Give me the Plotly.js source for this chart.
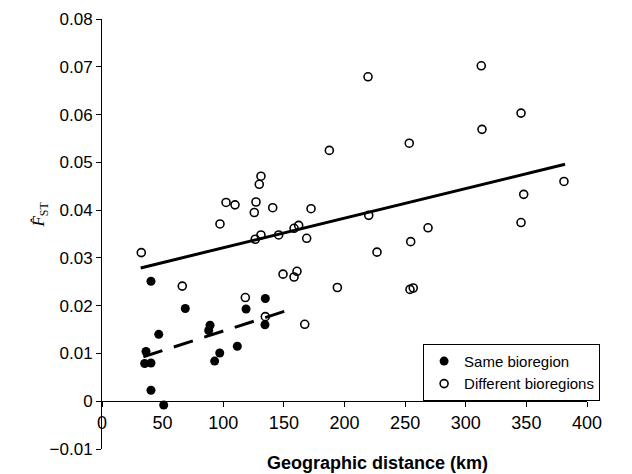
<!DOCTYPE html>
<html>
<head>
<meta charset="utf-8">
<script src="https://cdn.plot.ly/plotly-3.0.1.min.js"></script>
<style>html,body{margin:0;padding:0;background:#fff;}#chart{width:632px;height:474px;}</style>
</head>
<body>
<div id="chart"></div>
<script>
// Same bioregion (filled)
var sameX = [35.2, 36.3, 40.4, 40.4, 40.4, 46.8, 50.9, 68.7, 88.0, 89.1, 92.9, 97.1, 111.6, 118.8, 134.7, 134.4];
var sameY = [0.0079, 0.0104, 0.0080, 0.0023, 0.0251, 0.0140, -0.0008, 0.0194, 0.0148, 0.0159, 0.0084, 0.0101, 0.0115, 0.0193, 0.0215, 0.0160];
// Different bioregions (open)
var diffX = [32.4, 66.2, 97.3, 102.3, 109.7, 118.2, 125.6, 127.0, 126.4, 129.7, 131.1, 131.1, 134.7, 140.8, 145.7, 149.3, 158.4, 158.4, 160.8, 162.2, 167.2, 168.8, 172.4, 187.5, 194.1, 219.4, 220.0, 226.8, 253.4, 254.6, 254.0, 256.7, 268.9, 312.8, 313.4, 345.6, 345.6, 347.8, 381.0];
var diffY = [0.0311, 0.0241, 0.0371, 0.0416, 0.0411, 0.0217, 0.0395, 0.0417, 0.0339, 0.0454, 0.0471, 0.0348, 0.0177, 0.0405, 0.0348, 0.0266, 0.0362, 0.0260, 0.0272, 0.0368, 0.0161, 0.0341, 0.0403, 0.0525, 0.0238, 0.0679, 0.0389, 0.0312, 0.0540, 0.0334, 0.0234, 0.0237, 0.0363, 0.0702, 0.0569, 0.0603, 0.0374, 0.0433, 0.0460];
// Fitted trend lines (end points)
var diffFitX = [31.9, 381.9];
var diffFitY = [0.0279, 0.0496];
var sameFitX = [34.1, 155.3];
var sameFitY = [0.0093, 0.0192];
var xTickVals = [0, 50, 100, 150, 200, 250, 300, 350, 400];
var yTickVals = [-0.01, 0, 0.01, 0.02, 0.03, 0.04, 0.05, 0.06, 0.07, 0.08];
var yTickText = ['\u22120.01', '0', '0.01', '0.02', '0.03', '0.04', '0.05', '0.06', '0.07', '0.08'];

var font = 'Liberation Sans, Arial, Helvetica, sans-serif';
var traces = [
  {x: diffFitX, y: diffFitY, mode: 'lines', line: {color: '#000', width: 3}, showlegend: false, hoverinfo: 'skip'},
  {x: sameFitX, y: sameFitY, mode: 'lines', line: {color: '#000', width: 3, dash: '20px,12px'}, showlegend: false, hoverinfo: 'skip'},
  {x: sameX, y: sameY, mode: 'markers', name: 'Same bioregion',
   marker: {symbol: 'circle', size: 9, color: '#000'}},
  {x: diffX, y: diffY, mode: 'markers', name: 'Different bioregions',
   marker: {symbol: 'circle-open', size: 8, color: '#000', line: {width: 1.6, color: '#000'}}}
];
var layout = {
  width: 632, height: 474,
  margin: {l: 102, r: 45, t: 19, b: 25},
  paper_bgcolor: '#fff', plot_bgcolor: '#fff',
  font: {family: font, size: 15, color: '#000'},
  showlegend: true,
  legend: {x: 1.027, xanchor: 'right', y: 0.112, yanchor: 'bottom',
    bordercolor: '#000', borderwidth: 1, bgcolor: '#fff',
    font: {family: font, size: 15, color: '#000'}, itemwidth: 30, tracegroupgap: 0},
  xaxis: {range: [0, 400], tickvals: xTickVals, ticktext: xTickVals.map(String),
    anchor: 'free', position: 1/9, showline: true, linecolor: '#000', linewidth: 1,
    ticks: 'outside', ticklen: 5, tickcolor: '#000', showgrid: false, zeroline: false,
    tickfont: {family: font, size: 18, color: '#000'}},
  yaxis: {range: [-0.01, 0.08], tickvals: yTickVals, ticktext: yTickText,
    showline: true, linecolor: '#000', linewidth: 1,
    ticks: 'outside', ticklen: 5, tickcolor: '#000', showgrid: false, zeroline: false,
    tickfont: {family: font, size: 17, color: '#000'}},
  annotations: [
    {text: '<b>Geographic distance (km)</b>', xref: 'paper', yref: 'paper',
     x: 0.569, y: -0.0326, xanchor: 'center', yanchor: 'middle', showarrow: false,
     font: {family: font, size: 18, color: '#000'}},
    {text: '<i>F\u0302</i><sub>ST</sub>', xref: 'paper', yref: 'paper',
     x: -0.128, y: 0.545, xanchor: 'center', yanchor: 'middle', showarrow: false, textangle: -90,
     font: {family: 'Liberation Serif, Times New Roman, serif', size: 17, color: '#000'}}
  ]
};
Plotly.newPlot('chart', traces, layout, {staticPlot: true, displayModeBar: false});
</script>
</body>
</html>
